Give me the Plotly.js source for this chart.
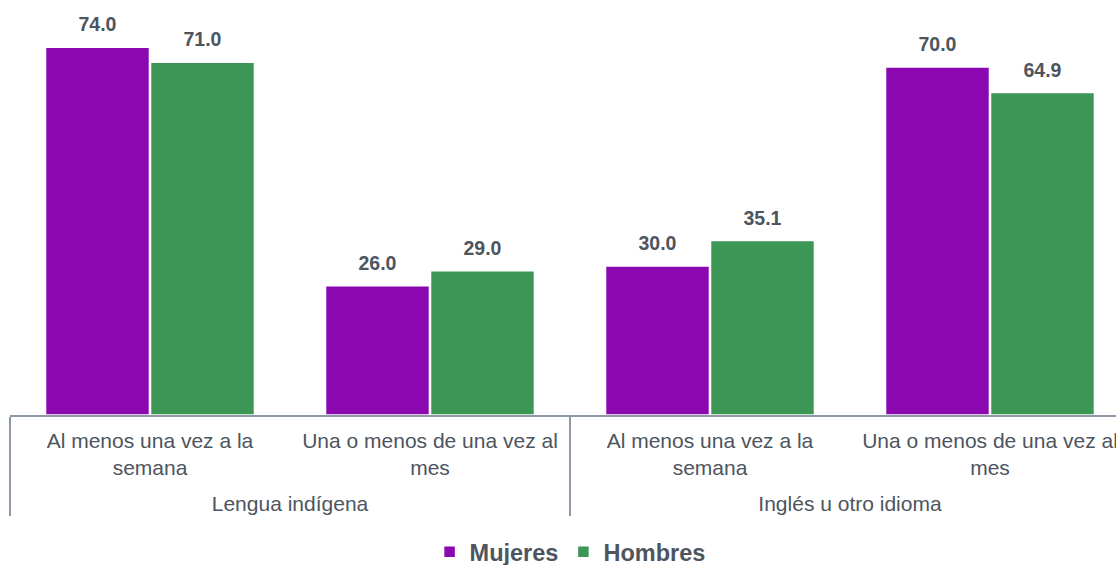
<!DOCTYPE html>
<html>
<head>
<meta charset="utf-8">
<script src="https://cdn.plot.ly/plotly-3.0.1.min.js"></script>
<style>html,body{margin:0;padding:0;background:#fff;}#chart{width:1116px;height:565px;}</style>
</head>
<body>
<div id="chart"></div>
<script>
const groups = ['Lengua indígena', 'Lengua indígena', 'Inglés u otro idioma', 'Inglés u otro idioma'];
const frequencies = ['Al menos una vez a la<br>semana', 'Una o menos de una vez al<br>mes', 'Al menos una vez a la<br>semana', 'Una o menos de una vez al<br>mes'];
const mujeres = [74.0, 26.0, 30.0, 70.0];
const hombres = [71.0, 29.0, 35.1, 64.9];
const seriesNames = ['Mujeres', 'Hombres'];

const purple = '#8B08B0';
const green = '#3C9655';
const textColor = '#4D555E';
const axisColor = '#8D99A5';
const fontFam = '"Liberation Sans", Arial, sans-serif';

// blank spacer line under the inner labels so the outer level sits lower
const spacer = '<br><sup>&nbsp;</sup>';
const xCats = [groups, frequencies.map(f => f + spacer)];

function barTrace(name, vals, color) {
  return {
    type: 'bar', name: name, x: xCats, y: vals,
    marker: {color: color, line: {color: '#ffffff', width: 1.5}},
    offsetgroup: name, hoverinfo: 'skip'
  };
}
function labelTrace(name, vals) {
  return {
    type: 'scatter', mode: 'markers+text', name: name + ' labels', x: xCats, y: vals,
    text: vals.map(v => v.toFixed(1)), textposition: 'top center',
    textfont: {family: fontFam, size: 19.5, color: textColor, weight: 'bold'},
    marker: {size: 16, color: 'rgba(0,0,0,0)'},
    offsetgroup: name, showlegend: false, cliponaxis: false, hoverinfo: 'skip'
  };
}

const data = [
  barTrace(seriesNames[0], mujeres, purple),
  barTrace(seriesNames[1], hombres, green),
  labelTrace(seriesNames[0], mujeres),
  labelTrace(seriesNames[1], hombres)
];

const layout = {
  width: 1116, height: 565,
  margin: {l: 10, r: 0, t: 0, b: 150, autoexpand: false},
  paper_bgcolor: '#ffffff', plot_bgcolor: '#ffffff',
  barmode: 'group', bargap: 0.25, bargroupgap: 0.01,
  scattermode: 'group', scattergap: 0.25,
  font: {family: fontFam, size: 21, color: textColor},
  xaxis: {
    type: 'multicategory', range: [-0.5, 3.45],
    showline: true, linecolor: axisColor, linewidth: 1.5,
    showgrid: false, zeroline: false, ticks: '',
    ticklabelstandoff: 6,
    tickfont: {family: fontFam, size: 21, color: textColor},
    showdividers: true, dividercolor: axisColor, dividerwidth: 1.5
  },
  yaxis: {
    range: [0, 83.5], visible: false, showgrid: false, zeroline: false
  },
  showlegend: true,
  legend: {
    orientation: 'h', x: 0.5064, xanchor: 'center', y: -0.33, yanchor: 'middle',
    font: {family: fontFam, size: 23.5, color: textColor, weight: 'bold'},
    traceorder: 'normal'
  }
};

Plotly.newPlot('chart', data, layout, {displayModeBar: false, staticPlot: true});
</script>
</body>
</html>
